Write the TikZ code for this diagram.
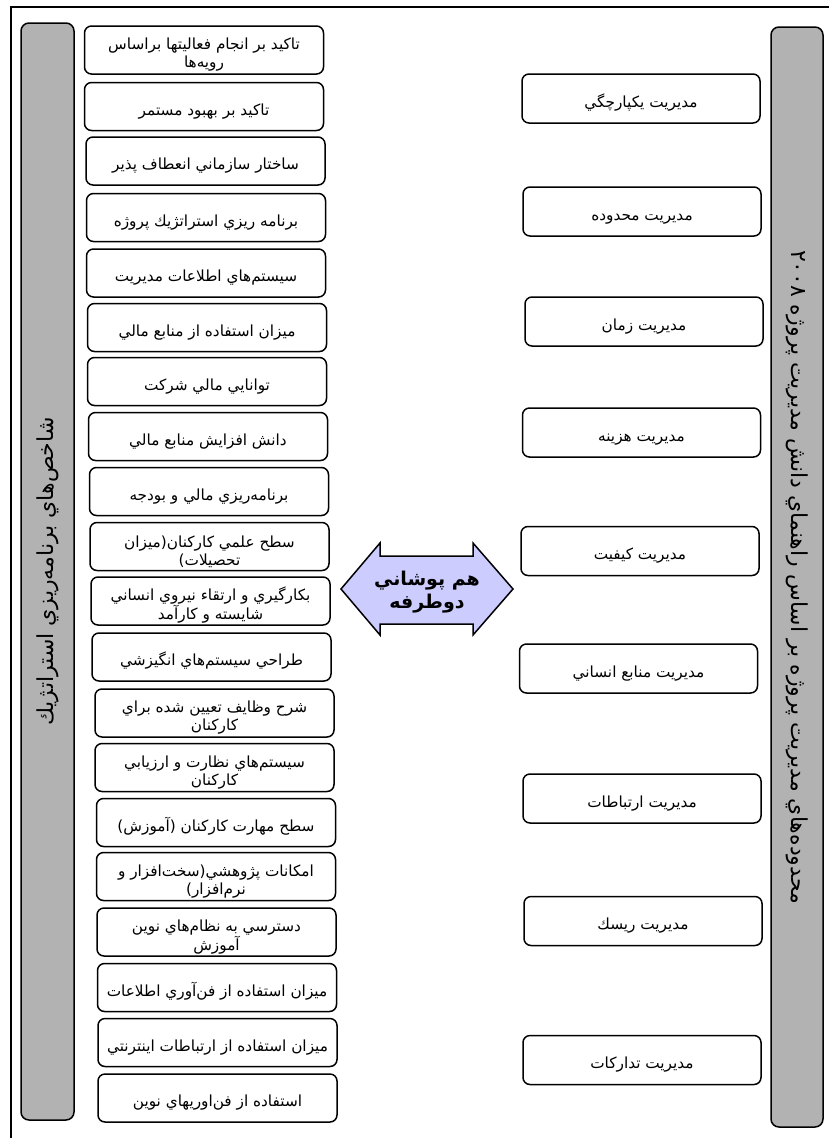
\documentclass[tikz,border=0pt]{standalone}
\usepackage{fontspec}
\newfontfamily\arabicfont[Script=Arabic]{DejaVu Sans}
\TeXXeTstate=1
\newcommand{\fa}[1]{\beginR #1\endR}
\newcommand{\topstrut}{\rule{0pt}{21.5pt}}
\definecolor{overlapfill}{RGB}{204,204,255}
\tikzset{
  item/.style={draw, line width=1.5pt, rounded corners=7pt, fill=white,
    minimum width=239pt, minimum height=48pt, inner sep=1pt, align=center,
    font=\arabicfont\fontsize{15.3}{18}\selectfont},
  area/.style={item, minimum width=238pt, minimum height=49pt},
  bar/.style={draw, line width=1.5pt, rounded corners=8pt, fill=black!30,
    inner sep=0pt, font=\arabicfont\fontsize{22}{26}\selectfont},
}
\begin{document}
\begin{tikzpicture}[x=1pt, y=-1pt]
    \useasboundingbox (0, 0) rectangle (829, 1138);
    \draw[line width=1.5pt] (11, 1138) -- (11, 7) -- (829, 7);

    % side bars
    \node[bar, rotate=90, minimum width=1097pt, minimum height=53pt] (lbar) at (47.5, 571.5)
        {\fa{شاخص^^^^200cهاي برنامه^^^^200cريزي استراتژيك}};
    \node[bar, rotate=-90, minimum width=1100pt, minimum height=52pt] (rbar) at (797, 577)
        {\fa{محدوده^^^^200cهاي مديريت پروژه بر اساس راهنماي دانش مديريت پروژه ۲۰۰۸}};

    % planning indicators
    \node[item] (l1) at (204, 50) {\topstrut\fa{تاكيد بر انجام فعاليتها براساس}\\\fa{رويه^^^^200cها}};
    \node[item] (l2) at (204, 106.5) {\topstrut\fa{تاكيد بر بهبود مستمر}};
    \node[item] (l3) at (205.5, 161) {\topstrut\fa{ساختار سازماني انعطاف پذير}};
    \node[item] (l4) at (206, 217.5) {\topstrut\fa{برنامه ريزي استراتژيك پروژه}};
    \node[item] (l5) at (206, 273) {\topstrut\fa{سيستم^^^^200cهاي اطلاعات مديريت}};
    \node[item] (l6) at (207, 327.5) {\topstrut\fa{ميزان استفاده از منابع مالي}};
    \node[item] (l7) at (207, 381.5) {\topstrut\fa{توانايي مالي شركت}};
    \node[item] (l8) at (208, 436.5) {\topstrut\fa{دانش افزايش منابع مالي}};
    \node[item] (l9) at (209, 491.5) {\topstrut\fa{برنامه^^^^200cريزي مالي و بودجه}};
    \node[item] (l10) at (209.5, 546.5) {\topstrut\fa{سطح علمي كاركنان(ميزان}\\تحصيلات)};
    \node[item] (l11) at (210.5, 601) {\topstrut\fa{بكارگيري و ارتقاء نيروي انساني}\\\fa{شايسته و كارآمد}};
    \node[item] (l12) at (211.5, 657) {\topstrut\fa{طراحي سيستم^^^^200cهاي انگيزشي}};
    \node[item] (l13) at (214.5, 713) {\topstrut\fa{شرح وظايف تعيين شده براي}\\\fa{كاركنان}};
    \node[item] (l14) at (214.5, 767.5) {\topstrut\fa{سيستم^^^^200cهاي نظارت و ارزيابي}\\\fa{كاركنان}};
    \node[item] (l15) at (216, 822.5) {\topstrut\fa{سطح مهارت كاركنان (آموزش)}};
    \node[item] (l16) at (216, 876.5) {\topstrut\fa{امكانات پژوهشي(سخت^^^^200cافزار و}\\نرم^^^^200cافزار)};
    \node[item] (l17) at (216.5, 932) {\topstrut\fa{دسترسي به نظام^^^^200cهاي نوين}\\\fa{آموزش}};
    \node[item] (l18) at (217, 987.5) {\topstrut\fa{ميزان استفاده از فن^^^^200cآوري اطلاعات}};
    \node[item] (l19) at (217.5, 1042.5) {\topstrut\fa{ميزان استفاده از ارتباطات اينترنتي}};
    \node[item] (l20) at (217.5, 1098) {\topstrut\fa{استفاده از فن^^^^200cاوريهاي نوين}};

    % knowledge areas
    \node[area] (r1) at (641, 98.5) {\topstrut\fa{مديريت يكپارچگي}};
    \node[area] (r2) at (642, 211.5) {\topstrut\fa{مديريت محدوده}};
    \node[area] (r3) at (644, 321.5) {\topstrut\fa{مديريت زمان}};
    \node[area] (r4) at (641.5, 432.5) {\topstrut\fa{مديريت هزينه}};
    \node[area] (r5) at (640, 551) {\topstrut\fa{مديريت كيفيت}};
    \node[area] (r6) at (638.5, 668.5) {\topstrut\fa{مديريت منابع انساني}};
    \node[area] (r7) at (642, 798.5) {\topstrut\fa{مديريت ارتباطات}};
    \node[area] (r8) at (643, 921) {\topstrut\fa{مديريت ريسك}};
    \node[area] (r9) at (642, 1060) {\topstrut\fa{مديريت تداركات}};

    % two-way overlap arrow
    \draw[line width=1.5pt, fill=overlapfill, line join=miter]
        (341, 589) -- (380, 543) -- (380, 556) -- (473, 556) -- (473, 543) -- (513, 589)
        -- (473, 635) -- (473, 624) -- (380, 624) -- (380, 635) -- cycle;
    \node[align=center, font=\arabicfont\bfseries\fontsize{19}{23.5}\selectfont]
        (overlap) at (427, 592) {\fa{هم پوشاني}\\\fa{دوطرفه}};
\end{tikzpicture}
\end{document}
